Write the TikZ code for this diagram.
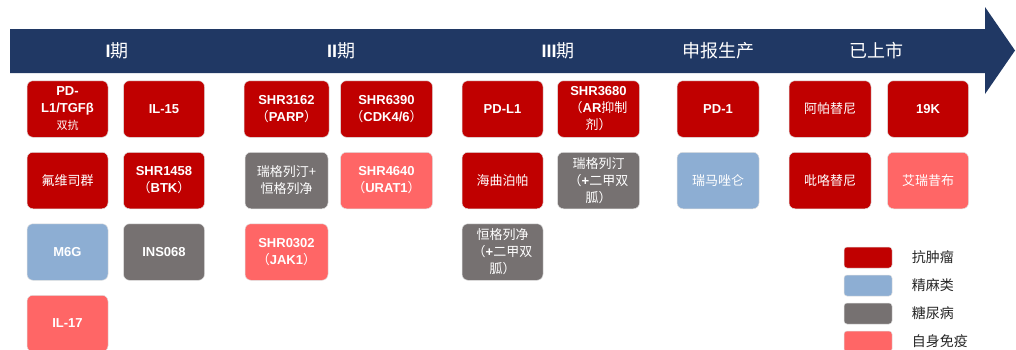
\documentclass[tikz,border=0pt]{standalone}
\usepackage{fontspec}
\setmainfont{Liberation Sans}
\newfontfamily\cjk[BoldFont={Noto Sans CJK SC}]{Noto Sans CJK SC}
\usetikzlibrary{positioning}
\definecolor{band}{HTML}{203864}
\definecolor{tumorred}{HTML}{C00000}
\definecolor{narcblue}{HTML}{8DAED3}
\definecolor{diabgray}{HTML}{767171}
\definecolor{immupink}{HTML}{FF6666}
\newcommand{\zh}[1]{{\cjk #1}}
\newcommand{\fwl}{{\cjk （}}
\newcommand{\fwr}{{\cjk ）}}

\begin{document}
\begin{tikzpicture}[
    x=1pt, y=-1pt,
    every node/.style={align=center},
    box/.style={rounded corners=6pt, minimum width=81pt, minimum height=56.5pt, inner sep=2pt, text=white, draw=white!88!black, line width=0.5pt, font=\bfseries\fontsize{13}{17}\selectfont},
    tumor/.style={box, fill=tumorred},
    narc/.style={box, fill=narcblue},
    diab/.style={box, fill=diabgray},
    immu/.style={box, fill=immupink},
    phase/.style={text=white, font=\bfseries\fontsize{18}{20}\selectfont},
    legbox/.style={rounded corners=3pt, minimum width=48pt, minimum height=21pt, draw=white!88!black, line width=0.5pt},
    legtext/.style={text=black!85, font=\cjk\fontsize{14}{16}\selectfont},
    node distance=14.5pt and 15pt
]
\useasboundingbox (0,0) rectangle (1016,349);

% --- Timeline arrow ---
\fill[band] (10,29) -- (985,29) -- (985,7) -- (1015,50.5) -- (985,94) -- (985,73) -- (10,73) -- cycle;
\node[phase] (P1) at (117,51) {I\zh{期}};
\node[phase] (P2) at (341,51) {II\zh{期}};
\node[phase] (P3) at (558,51) {III\zh{期}};
\node[phase] (P4) at (718,51) {\zh{申报生产}};
\node[phase] (P5) at (876,51) {\zh{已上市}};

% --- Phase I ---
\node[tumor] (A) at (67.5,109) {PD-\\L1/TGFβ\\{\fontsize{11}{13}\selectfont\zh{双抗}}};
\node[tumor, right=of A] (B) {IL-15};
\node[tumor, below=of A] (C) {\zh{氟维司群}};
\node[tumor, below=of B] (D) {SHR1458\\\fwl BTK\fwr};
\node[narc, below=of C] (E) {M6G};
\node[diab, below=of D] (F) {INS068};
\node[immu, below=of E] (G) {IL-17};

% --- Phase II ---
\node[tumor, minimum width=85pt] (H) at (286.5,109) {SHR3162\\\fwl PARP\fwr};
\node[tumor, minimum width=92pt, right=11pt of H] (I) {SHR6390\\\fwl CDK4/6\fwr};
\node[diab, minimum width=83pt, below=of H] (J) {\zh{瑞格列汀+}\\\zh{恒格列净}};
\node[immu, minimum width=92pt, below=of I] (K) {SHR4640\\\fwl URAT1\fwr};
\node[immu, minimum width=83pt, below=of J] (L) {SHR0302\\\fwl JAK1\fwr};

% --- Phase III ---
\node[tumor] (M) at (502.5,109) {PD-L1};
\node[tumor, minimum width=82pt, right=14pt of M] (N) {SHR3680\\\fwl AR\zh{抑制}\\\zh{剂}\fwr};
\node[tumor, below=of M] (O) {\zh{海曲泊帕}};
\node[diab, minimum width=82pt, below=of N] (Q) {\zh{瑞格列汀}\\\fwl+\zh{二甲双}\\\zh{胍}\fwr};
\node[diab, below=of O] (R) {\zh{恒格列净}\\\fwl+\zh{二甲双}\\\zh{胍}\fwr};

% --- Filing ---
\node[tumor, minimum width=82pt] (S) at (718,109) {PD-1};
\node[narc, minimum width=82pt, below=of S] (T) {\zh{瑞马唑仑}};

% --- Marketed ---
\node[tumor, minimum width=82pt] (U) at (830,109) {\zh{阿帕替尼}};
\node[tumor, right=16pt of U] (V) {19K};
\node[tumor, minimum width=82pt, below=of U] (W) {\zh{吡咯替尼}};
\node[immu, below=of V] (X) {\zh{艾瑞昔布}};

% --- Legend ---
\node[legbox, fill=tumorred] (L1) at (868,257.5) {};
\node[legbox, fill=narcblue, below=6.5pt of L1] (L2) {};
\node[legbox, fill=diabgray, below=6.5pt of L2] (L3) {};
\node[legbox, fill=immupink, below=6.5pt of L3] (L4) {};
\node[legtext, right=16pt of L1] (N1) {抗肿瘤};
\node[legtext, right=16pt of L2] (N2) {精麻类};
\node[legtext, right=16pt of L3] (N3) {糖尿病};
\node[legtext, right=16pt of L4] (N4) {自身免疫};

\end{tikzpicture}
\end{document}
